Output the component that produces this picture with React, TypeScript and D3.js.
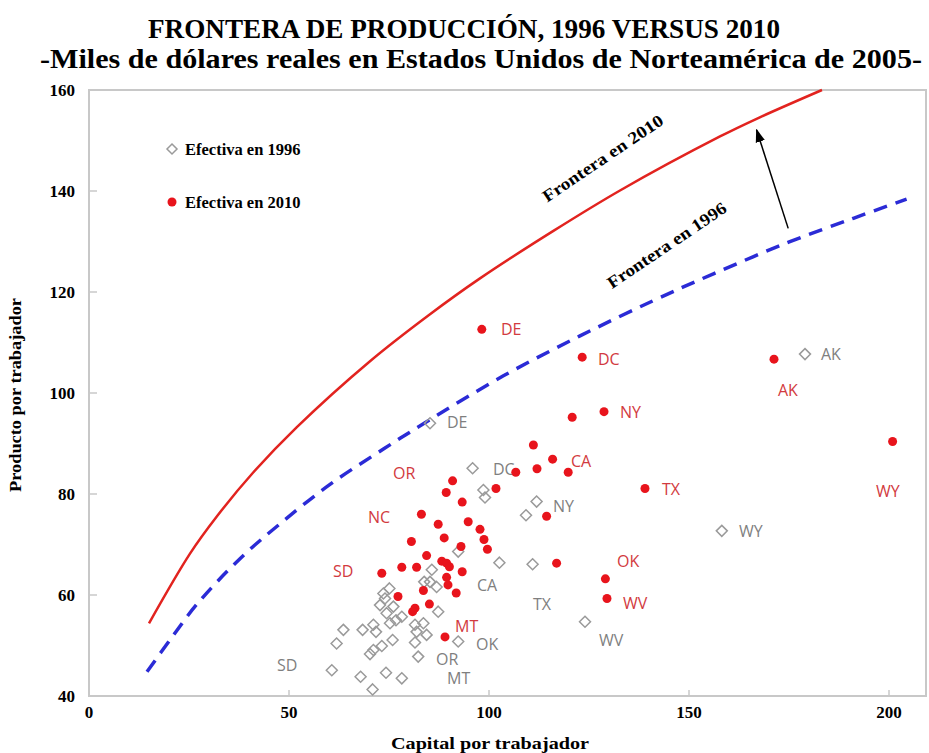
import React from "react";
import * as d3 from "d3";

// ---------- data ----------
const capital1996 = [85.25, 179, 158.2, 124, 95.9, 98.6, 99, 111.9, 109.25, 102.6, 110.9, 92.3, 92.3, 75.1, 74, 72.75, 76.1, 74.4, 78.2, 76.75, 75.25, 81.5, 83.6, 84.4, 81.9, 81.5, 82.3, 87.3, 71.1, 68.4, 71.75, 63.6, 61.9, 73.2, 71.1, 70.25, 75.9, 60.7, 67.9, 74.25, 78.2, 70.9, 85.7, 85.25, 86.9, 83.8, 73.6];
const product1996 = [94.0, 107.7, 72.7, 54.7, 85.1, 80.8, 79.3, 78.5, 75.8, 66.4, 66.1, 68.6, 50.8, 61.3, 59.3, 58.0, 57.7, 56.4, 55.7, 55.0, 54.4, 54.1, 54.4, 52.1, 52.7, 50.6, 47.8, 56.7, 54.1, 53.1, 52.7, 53.1, 50.4, 49.9, 49.1, 48.3, 51.1, 45.1, 43.8, 44.6, 43.5, 41.3, 65.0, 62.6, 61.6, 62.6, 60.3];

const capital2010 = [98.2, 123.3, 128.75, 120.8, 111.1, 115.9, 112, 119.8, 106.7, 101.75, 139, 90.9, 89.3, 93.3, 83.1, 87.3, 94.8, 97.75, 98.75, 99.6, 88.8, 80.6, 93, 84.4, 88.2, 89.4, 90.1, 93.3, 73.2, 78.2, 81.9, 89.4, 89.75, 83.6, 91.8, 77.25, 81.5, 80.9, 85.1, 89, 114.4, 116.9, 129.1, 129.5, 171.25, 200.9];
const product2010 = [112.6, 107.1, 96.3, 95.2, 89.7, 86.9, 85.0, 84.3, 84.3, 81.1, 81.1, 82.6, 80.3, 78.4, 76.0, 74.0, 74.5, 73.0, 71.0, 69.05, 71.3, 70.6, 69.6, 67.8, 66.7, 66.3, 65.6, 64.6, 64.3, 65.5, 65.5, 63.5, 62.0, 60.9, 60.4, 59.7, 57.4, 56.7, 58.2, 51.7, 75.6, 66.3, 63.2, 59.3, 106.7, 90.4];

const labels1996 = ["DE", "DC", "NY", "CA", "TX", "OK", "OR", "MT", "SD", "WV", "WY", "AK"];
const labelK1996 = [89.5, 101, 116, 97, 111, 96.75, 86.75, 89.5, 47, 127.5, 162.5, 183];
const labelY1996 = [94.1, 84.8, 77.6, 62, 58.2, 50.3, 47.3, 43.4, 46.1, 51.1, 72.5, 107.7];

const labels2010 = ["DE", "DC", "NY", "CA", "TX", "OK", "WV", "MT", "OR", "NC", "SD", "AK", "WY"];
const labelK2010 = [103, 127.25, 132.75, 120.5, 143.25, 132, 133.5, 91.5, 76, 69.75, 61, 172.25, 196.75];
const labelY2010 = [112.5, 106.7, 96.2, 86.5, 81, 66.7, 58.4, 53.7, 84, 75.4, 64.6, 100.6, 80.6];

const frontierK2010 = [15, 25.25, 31.9, 41.1, 51.9, 70.25, 85.25, 97.75, 116.1, 132.75, 157.75, 166.9, 183.25];
const frontierY2010 = [54.4, 68.2, 75.5, 84.3, 93.2, 106.3, 115.6, 122.7, 132.1, 140.1, 150.8, 154.3, 160];

const frontierK1996 = [14.5, 20.25, 26.9, 37.75, 47.75, 60.25, 73.6, 83.6, 103.6, 122.75, 141.1, 156.1, 174.4, 191.1, 204.4];
const frontierY1996 = [44.8, 51.1, 58.1, 67.2, 74.1, 81.9, 88.9, 93.9, 103.4, 111.3, 118.3, 123.6, 129.7, 134.6, 138.4];

const xTicks = [0, 50, 100, 150, 200];
const yTicks = [40, 60, 80, 100, 120, 140, 160];

// arrow from 1996 frontier toward 2010 frontier (data units)
const arrowFrom = [174.8, 132.6];
const arrowTo = [166.9, 152.1];

// ---------- chart ----------
const W = 929;
const H = 753;
const serif = "'Liberation Serif', 'Times New Roman', serif";
const sans = "'Open Sans', 'DejaVu Sans', sans-serif";

export default function App() {
  const x = d3.scaleLinear().domain([0, 200]).range([89, 889]);
  const y = d3.scaleLinear().domain([40, 160]).range([696, 90]);
  const frameRight = x(209.25);

  const pts2010: [number, number][] = frontierK2010.map((k, i) => [x(k), y(frontierY2010[i])]);
  const pts1996: [number, number][] = frontierK1996.map((k, i) => [x(k), y(frontierY1996[i])]);
  const lineGen = d3.line().curve(d3.curveCatmullRom.alpha(0.5));

  const diamond = (cx: number, cy: number, r: number) =>
    `M${cx},${cy - r}L${cx + r},${cy}L${cx},${cy + r}L${cx - r},${cy}Z`;

  const red = "#e8141c";
  const redText = "#d23a40";
  const greyText = "#7f7f7f";
  const greyMark = "#9a9a9a";

  return (
    <div style={{ position: "absolute", left: 0, top: 0, width: W, height: H, background: "#fff" }}>
      <svg width={W} height={H} style={{ display: "block" }}>
        <defs>
          <marker id="arrowhead" viewBox="0 0 10 10" refX="9" refY="5" markerWidth="9" markerHeight="9" orient="auto">
            <path d="M0,1.5L10,5L0,8.5Z" fill="#000" />
          </marker>
        </defs>
        {/* titles */}
        <text x={464} y={38} textAnchor="middle" fontFamily={serif} fontWeight="bold" fontSize={27} textLength={632} lengthAdjust="spacingAndGlyphs">
          FRONTERA DE PRODUCCIÓN, 1996 VERSUS 2010
        </text>
        <text x={481} y={68} textAnchor="middle" fontFamily={serif} fontWeight="bold" fontSize={27} textLength={882} lengthAdjust="spacingAndGlyphs">
          -Miles de dólares reales en Estados Unidos de Norteamérica de 2005-
        </text>

        {/* frame */}
        <rect x={x(0)} y={y(160)} width={frameRight - x(0)} height={y(40) - y(160)} fill="none" stroke="#c8c8c8" strokeWidth={2} />

        {/* ticks */}
        {xTicks.map((t) => (
          <g key={"xt" + t}>
            {t > 0 && <line x1={x(t)} x2={x(t)} y1={y(40)} y2={y(40) - 6} stroke="#c8c8c8" strokeWidth={1.5} />}
            <text x={x(t)} y={718} textAnchor="middle" fontFamily={serif} fontWeight="bold" fontSize={17}>
              {t}
            </text>
          </g>
        ))}
        {yTicks.map((t) => (
          <g key={"yt" + t}>
            {t > 40 && t < 160 && <line x1={x(0)} x2={x(0) + 8} y1={y(t)} y2={y(t)} stroke="#c8c8c8" strokeWidth={1.5} />}
            <text x={75} y={y(t) + 6} textAnchor="end" fontFamily={serif} fontWeight="bold" fontSize={17}>
              {t}
            </text>
          </g>
        ))}

        {/* axis titles */}
        <text x={490} y={749} textAnchor="middle" fontFamily={serif} fontWeight="bold" fontSize={16} textLength={198} lengthAdjust="spacingAndGlyphs">
          Capital por trabajador
        </text>
        <text transform={`translate(21,395) rotate(-90)`} textAnchor="middle" fontFamily={serif} fontWeight="bold" fontSize={16} textLength={194} lengthAdjust="spacingAndGlyphs">
          Producto por trabajador
        </text>

        {/* frontiers */}
        <path d={lineGen(pts2010) || ""} fill="none" stroke="#e2231f" strokeWidth={2.5} />
        <path d={lineGen(pts1996) || ""} fill="none" stroke="#2b2bd6" strokeWidth={3.5} strokeDasharray="14,9" />

        {/* 1996 points */}
        {capital1996.map((k, i) => (
          <path key={"p96" + i} d={diamond(x(k), y(product1996[i]), 5.5)} fill="none" stroke={greyMark} strokeWidth={1.5} />
        ))}
        {labels1996.map((s, i) => (
          <text key={"l96" + i} x={x(labelK1996[i])} y={y(labelY1996[i])} dy="0.35em" fontFamily={sans} fontSize={16} fill={greyText}>
            {s}
          </text>
        ))}

        {/* 2010 points */}
        {capital2010.map((k, i) => (
          <circle key={"p10" + i} cx={x(k)} cy={y(product2010[i])} r={4.5} fill={red} />
        ))}
        {labels2010.map((s, i) => (
          <text key={"l10" + i} x={x(labelK2010[i])} y={y(labelY2010[i])} dy="0.35em" fontFamily={sans} fontSize={16} fill={redText}>
            {s}
          </text>
        ))}

        {/* frontier labels */}
        <text transform={`translate(606,163) rotate(-34)`} textAnchor="middle" fontFamily={serif} fontWeight="bold" fontSize={17} textLength={142} lengthAdjust="spacingAndGlyphs">
          Frontera en 2010
        </text>
        <text transform={`translate(670,250) rotate(-34)`} textAnchor="middle" fontFamily={serif} fontWeight="bold" fontSize={17} textLength={140} lengthAdjust="spacingAndGlyphs">
          Frontera en 1996
        </text>

        {/* arrow */}
        <line x1={x(arrowFrom[0])} y1={y(arrowFrom[1])} x2={x(arrowTo[0])} y2={y(arrowTo[1])} stroke="#000" strokeWidth={1.5} markerEnd="url(#arrowhead)" />

        {/* legend */}
        <path d={diamond(172, 149, 5)} fill="none" stroke={greyMark} strokeWidth={1.5} />
        <text x={185} y={155} fontFamily={serif} fontWeight="bold" fontSize={16.5}>
          Efectiva en 1996
        </text>
        <circle cx={172} cy={202} r={4.5} fill={red} />
        <text x={185} y={208} fontFamily={serif} fontWeight="bold" fontSize={16.5}>
          Efectiva en 2010
        </text>
      </svg>
    </div>
  );
}
